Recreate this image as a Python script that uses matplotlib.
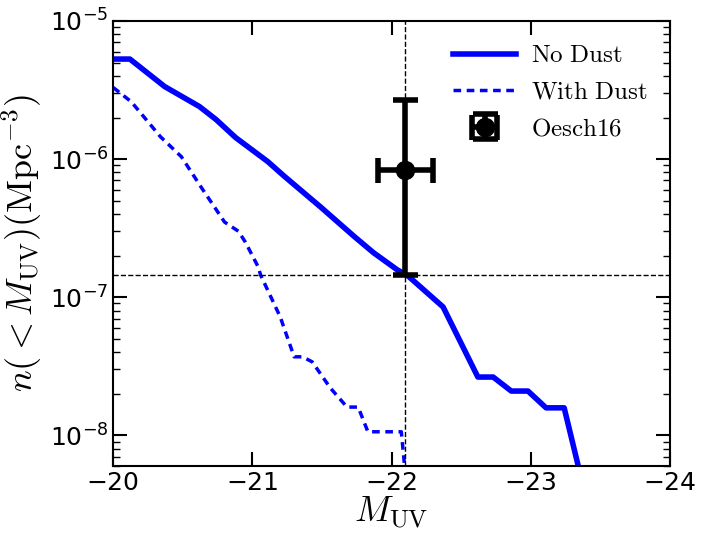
import numpy as np
import matplotlib
matplotlib.use('Agg')
import matplotlib.pyplot as plt

plt.rcParams['mathtext.fontset'] = 'cm'
plt.rcParams['xtick.direction'] = 'in'
plt.rcParams['ytick.direction'] = 'in'
plt.rcParams['xtick.top'] = True
plt.rcParams['ytick.right'] = True

# cumulative number density, no dust
m_nodust = [-20.0, -20.12, -20.37, -20.62, -20.74, -20.88, -21.11, -21.23, -21.49,
            -21.73, -21.87, -22.04, -22.12, -22.37, -22.62, -22.73, -22.86, -22.98,
            -23.11, -23.24, -23.36]
n_nodust = [5.3e-6, 5.3e-6, 3.35e-6, 2.4e-6, 1.93e-6, 1.43e-6, 9.6e-7, 7.5e-7, 4.5e-7,
            2.76e-7, 2.1e-7, 1.58e-7, 1.42e-7, 8.5e-8, 2.64e-8, 2.64e-8, 2.09e-8, 2.09e-8,
            1.58e-8, 1.58e-8, 5.0e-9]

# cumulative number density, with dust
m_dust = [-20.0, -20.13, -20.34, -20.49, -20.63, -20.8, -20.9, -20.95, -21.04, -21.06,
          -21.2, -21.3, -21.36, -21.43, -21.56, -21.68, -21.76, -21.83, -22.07, -22.11]
n_dust = [3.3e-6, 2.6e-6, 1.45e-6, 1.04e-6, 6.3e-7, 3.5e-7, 3.0e-7, 2.5e-7, 1.67e-7, 1.44e-7,
          7.2e-8, 3.7e-8, 3.7e-8, 3.4e-8, 2.2e-8, 1.6e-8, 1.6e-8, 1.06e-8, 1.06e-8, 4.0e-9]

# Oesch16 point
obs_m = -22.1
obs_n = 8.4e-7
obs_merr = 0.2
obs_nlo = 1.44e-7
obs_nhi = 2.7e-6

fig = plt.figure(figsize=(7.03, 5.38), dpi=100)
ax = fig.add_axes([0.161, 0.134, 0.792, 0.827])

ax.plot(m_nodust, n_nodust, color='blue', lw=4, label=r'$\mathrm{No\ Dust}$')
ax.plot(m_dust, n_dust, color='blue', lw=2.5, ls='--', dashes=(2.2, 1.6),
        label=r'$\mathrm{With\ Dust}$')
ax.errorbar([obs_m], [obs_n], xerr=[obs_merr],
            yerr=[[obs_n - obs_nlo], [obs_nhi - obs_n]],
            fmt='o', color='black', ms=13, elinewidth=4, capsize=9, capthick=4,
            label=r'$\mathrm{Oesch16}$')
ax.axvline(obs_m, color='black', ls='--', lw=1)
ax.axhline(obs_nlo, color='black', ls='--', lw=1)

ax.set_yscale('log')
ax.set_xlim(-20, -24)
ax.set_ylim(6e-9, 1e-5)
ax.set_xticks([-20, -21, -22, -23, -24])
ax.tick_params(which='major', length=10, width=1.5, labelsize=18)
ax.tick_params(which='minor', length=5, width=1)
for s in ax.spines.values():
    s.set_linewidth(1.5)

ax.set_xlabel(r'$M_{\rm UV}$', fontsize=26, labelpad=0)
ax.set_ylabel(r'$n(<M_{\rm UV}) ({\rm Mpc}^{-3})$', fontsize=26)
ax.legend(loc='upper right', frameon=False, fontsize=18, numpoints=1,
          handlelength=2.5, handletextpad=0.6)

fig.savefig('out.png', dpi=100)
